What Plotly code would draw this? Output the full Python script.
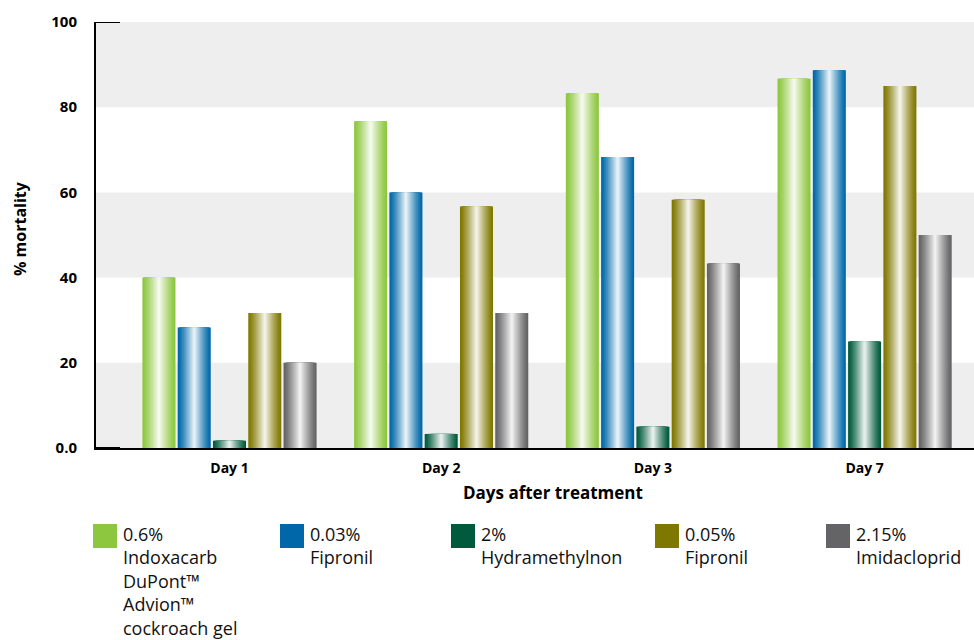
import plotly.graph_objects as go

# ---------------- data ----------------
days = ["Day 1", "Day 2", "Day 3", "Day 7"]
indoxacarb_06 = [40.0, 76.7, 83.3, 86.7]
fipronil_003 = [28.3, 60.0, 68.3, 88.7]
hydramethylnon_2 = [1.7, 3.3, 5.0, 25.0]
fipronil_005 = [31.7, 56.7, 58.3, 85.0]
imidacloprid_215 = [20.0, 31.7, 43.3, 50.0]

series_values = [indoxacarb_06, fipronil_003, hydramethylnon_2, fipronil_005, imidacloprid_215]
series_names = [
    "0.6%<br>Indoxacarb<br>DuPont™<br>Advion™<br>cockroach gel",
    "0.03%<br>Fipronil",
    "2%<br>Hydramethylnon",
    "0.05%<br>Fipronil",
    "2.15%<br>Imidacloprid",
]
series_colors = ["#8dc63f", "#0068a8", "#005a3c", "#7f7800", "#646466"]

y_tickvals = [0, 20, 40, 60, 80, 100]
y_ticktext = ["0.0", "20", "40", "60", "80", "100"]

# ---------------- layout constants ----------------
W, H = 974, 640
L, R, T, B = 96, 0, 22, 192
PW, PH = W - L - R, H - T - B

def px2x(px):
    return (px - L) / PW

def px2y(py):
    return (H - B - py) / PH

def mix(c, f):
    c = c.lstrip("#")
    r, g, b = int(c[0:2], 16), int(c[2:4], 16), int(c[4:6], 16)
    r = round(r + (255 - r) * f)
    g = round(g + (255 - g) * f)
    b = round(b + (255 - b) * f)
    return f"rgb({r},{g},{b})"

slot = 1 / 6
bar_w = 0.156
n_layers = 16

fig = go.Figure()
for i, (vals, name, col) in enumerate(zip(series_values, series_names, series_colors)):
    center = (i - 2) * slot
    for j in range(n_layers):
        t = j / (n_layers - 1)
        w = bar_w * (1 - j / n_layers)
        f = 0.9 * t ** 1.2
        fig.add_trace(go.Bar(
            x=days, y=vals, width=w, offset=center - w / 2,
            marker=dict(color=mix(col, f), line=dict(width=0)),
            name=name.replace("<br>", " "), showlegend=False, hoverinfo="skip" if j else "y+name",
        ))

# grey bands
shapes = []
for lo in (0, 40, 80):
    shapes.append(dict(type="rect", xref="paper", yref="y", x0=0, x1=1, y0=lo, y1=lo + 20,
                       fillcolor="#eeeeee", line=dict(width=0), layer="below"))
# short ticks at 100 and 0
for yv in (0, 100):
    shapes.append(dict(type="line", xref="paper", yref="y", x0=0, x1=px2x(L + 24), y0=yv, y1=yv,
                       line=dict(color="black", width=2), layer="above"))

# custom legend
legend_sq_x = [93, 280, 451, 655, 826]
legend_sq_y = 524
annotations = []
for name, col, sx in zip(series_names, series_colors, legend_sq_x):
    shapes.append(dict(type="rect", xref="paper", yref="paper",
                       x0=px2x(sx), x1=px2x(sx + 24), y0=px2y(legend_sq_y + 24), y1=px2y(legend_sq_y),
                       fillcolor=col, line=dict(width=0)))
    annotations.append(dict(xref="paper", yref="paper", x=px2x(sx + 28), y=px2y(legend_sq_y - 4),
                            xanchor="left", yanchor="top", align="left", showarrow=False,
                            text=name, font=dict(family="Open Sans", size=18, color="#111111")))

annotations.append(dict(xref="paper", yref="paper", x=px2x(553), y=px2y(492), xanchor="center",
                        yanchor="middle", showarrow=False, text="<b>Days after treatment</b>",
                        font=dict(family="Open Sans", size=17, color="black")))
annotations.append(dict(xref="paper", yref="paper", x=px2x(20), y=px2y(229), xanchor="center",
                        yanchor="middle", showarrow=False, textangle=-90, text="<b>% mortality</b>",
                        font=dict(family="Open Sans", size=16, color="black")))

fig.update_layout(
    width=W, height=H,
    margin=dict(l=L, r=R, t=T, b=B, pad=0),
    barmode="overlay",
    plot_bgcolor="white", paper_bgcolor="white",
    showlegend=False,
    shapes=shapes,
    annotations=annotations,
    font=dict(family="Open Sans", color="black"),
    xaxis=dict(
        range=[(L - 229.5) / 211.7, (W - 229.5) / 211.7],
        showline=True, linecolor="black", linewidth=2, showgrid=False, zeroline=False,
        ticks="", tickfont=dict(family="Open Sans", size=14, color="black", weight="bold"),
        ticklabelstandoff=6,
    ),
    yaxis=dict(
        range=[0, 100], tickvals=y_tickvals, ticktext=y_ticktext,
        showline=True, linecolor="black", linewidth=2, showgrid=False, zeroline=False,
        ticks="", tickfont=dict(family="Open Sans", size=15, color="black", weight="bold"),
        ticklabelstandoff=14,
    ),
)

fig.write_html("out.html", config={"displayModeBar": False},
               post_script="document.body.style.margin='0';document.body.style.overflow='hidden';")
